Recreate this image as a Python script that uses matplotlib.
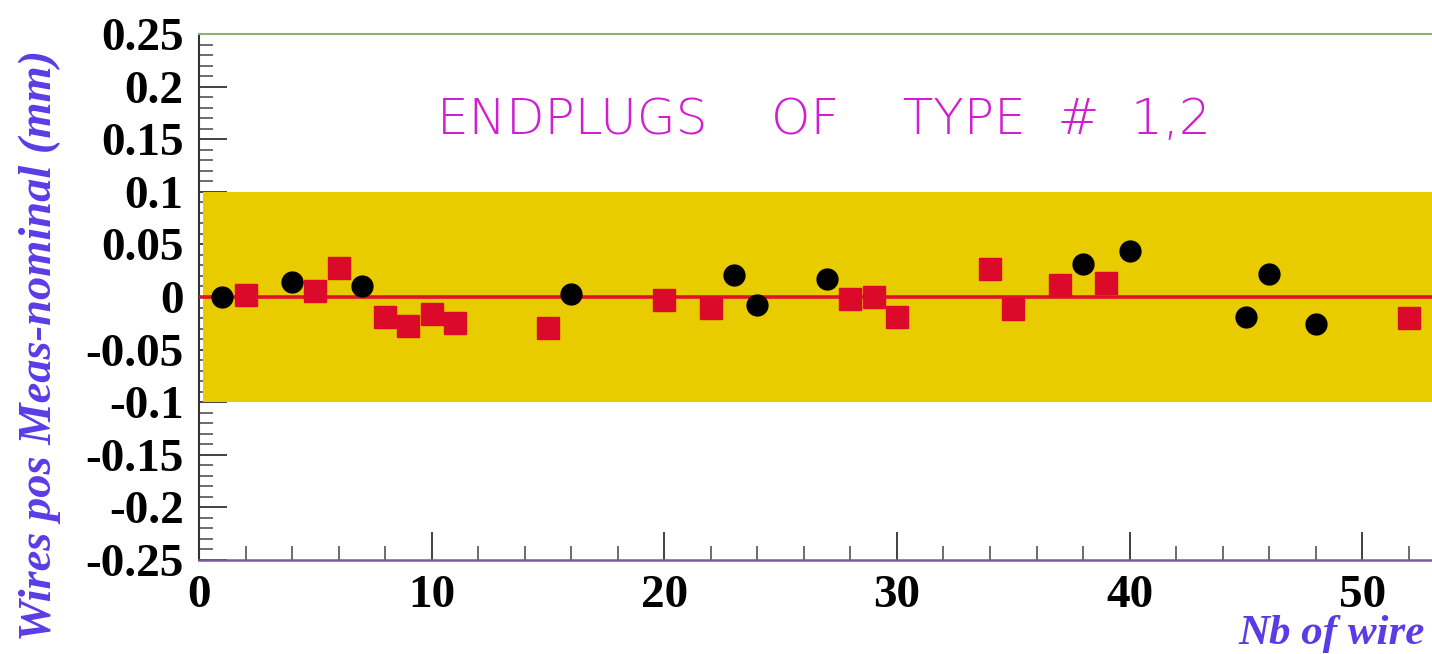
import matplotlib
matplotlib.use("Agg")
import matplotlib.pyplot as plt
from matplotlib.ticker import MultipleLocator, FixedFormatter, FixedLocator

# Measurements: wire number vs. (measured - nominal) position, mm
circle_wire = [1, 4, 7, 16, 23, 24, 27, 38, 40, 45, 46, 48]
circle_dev = [0.000, 0.0146, 0.0105, 0.0026, 0.021, -0.0076, 0.0168,
              0.0314, 0.044, -0.019, 0.0219, -0.0257]

square_wire = [2, 5, 6, 8, 9, 10, 11, 15, 20, 22, 28, 29, 30, 34, 35, 37, 39, 52]
square_dev = [0.002, 0.006, 0.028, -0.019, -0.028, -0.016, -0.025, -0.029,
              -0.003, -0.010, -0.002, 0.000, -0.019, 0.0266, -0.0114, 0.0114,
              0.013, -0.020]

tolerance = 0.1
y_ticks = [0.25, 0.2, 0.15, 0.1, 0.05, 0, -0.05, -0.1, -0.15, -0.2, -0.25]
y_tick_labels = ["0.25", "0.2", "0.15", "0.1", "0.05", "0", "-0.05", "-0.1",
                 "-0.15", "-0.2", "-0.25"]
x_ticks = [0, 10, 20, 30, 40, 50]
x_tick_labels = ["0", "10", "20", "30", "40", "50"]

title_text = "ENDPLUGS    OF    TYPE  #  1,2"
x_label = "Nb of wire"
y_label = "Wires pos Meas-nominal (mm)"

label_color = "#5a3ce6"
band_color = "#e8cc00"
red = "#dc0a2a"

fig = plt.figure(figsize=(14.32, 6.54), dpi=100)
ax = fig.add_axes([199 / 1432, 94 / 654, 1 - 199 / 1432, 526 / 654])

ax.set_xlim(0, 53)
ax.set_ylim(-0.25, 0.25)

# tolerance band and nominal line
ax.axhspan(-tolerance, tolerance, xmin=0.003, xmax=1, color=band_color,
           zorder=3, lw=0)
ax.axhline(0, color="#e3102c", lw=2.6, zorder=4)

ax.plot(square_wire, square_dev, linestyle="none", marker="s", ms=15.5,
        mfc=red, mec=red, zorder=5)
ax.plot(circle_wire, circle_dev, linestyle="none", marker="o", ms=15,
        mfc="black", mec="black", zorder=6)

# ticks
ax.yaxis.set_major_locator(FixedLocator(y_ticks))
ax.yaxis.set_major_formatter(FixedFormatter(y_tick_labels))
ax.yaxis.set_minor_locator(MultipleLocator(0.01))
ax.xaxis.set_major_locator(FixedLocator(x_ticks))
ax.xaxis.set_major_formatter(FixedFormatter(x_tick_labels))
ax.xaxis.set_minor_locator(MultipleLocator(2))
ax.tick_params(axis="both", which="major", direction="in", length=20,
               width=1.3, color="#333333")
ax.tick_params(axis="both", which="minor", direction="in", length=10,
               width=1.1, color="#444444")
ax.tick_params(axis="y", which="both", left=True, right=False, pad=11)
ax.tick_params(axis="x", which="both", bottom=True, top=False, pad=11)

for lab in ax.get_yticklabels() + ax.get_xticklabels():
    lab.set_fontfamily("Liberation Serif")
    lab.set_fontweight("bold")
    lab.set_fontsize(34)
    lab.set_color("black")

ax.spines["right"].set_visible(False)
ax.spines["top"].set_color("#8fb070")
ax.spines["top"].set_linewidth(1.5)
ax.spines["left"].set_color("#333333")
ax.spines["left"].set_linewidth(1.5)
ax.spines["bottom"].set_color("#7a5a9a")
ax.spines["bottom"].set_linewidth(1.8)

# hand-lettered style title inside the frame
ax.text(0.193, 0.81, title_text, transform=ax.transAxes, ha="left",
        va="baseline", fontsize=36, color="#d01ed0", family="DejaVu Sans",
        fontweight="light")

fig.text(1425 / 1432, 1 / 654, x_label, ha="right", va="bottom",
         fontsize=31, fontfamily="Liberation Serif", fontweight="bold",
         fontstyle="italic", color=label_color)
fig.text(40 / 1432, 0.5 - 18 / 654, y_label, ha="center", va="center",
         rotation=90, fontsize=33.5, fontfamily="Liberation Serif",
         fontweight="bold", fontstyle="italic", color=label_color)

fig.savefig("out.png", dpi=100, facecolor="white")
